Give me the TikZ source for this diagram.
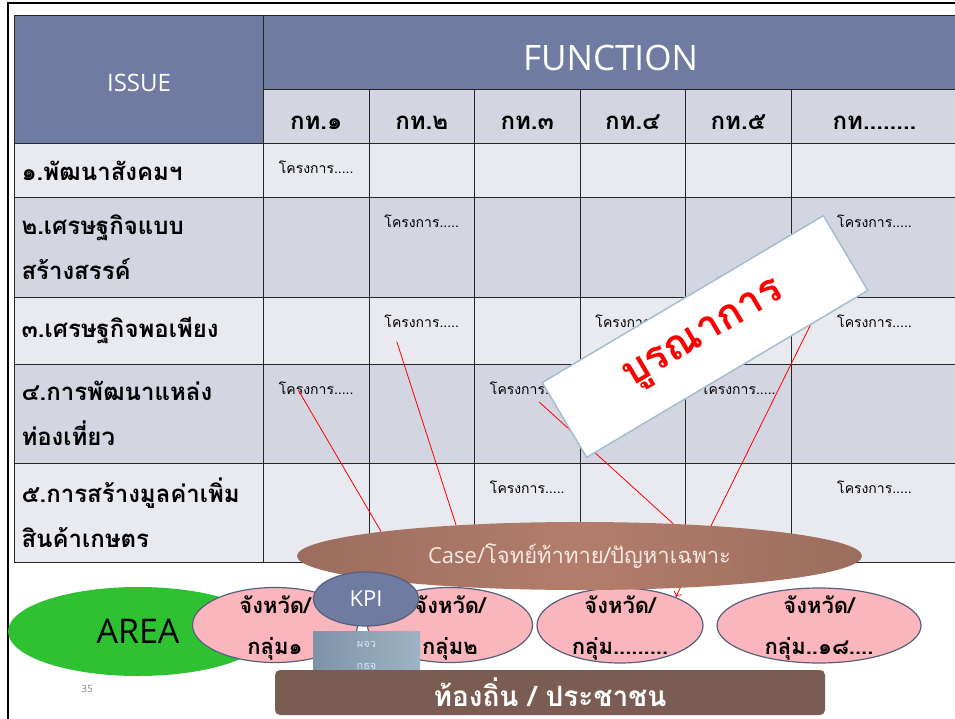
\documentclass[tikz,border=0pt]{standalone}
\usepackage{fontspec}
\setmainfont{Open Sans}
\newfontfamily\thai[Script=Thai]{Loma}
\usetikzlibrary{positioning,shapes.geometric,arrows.meta}
\pgfdeclarelayer{front}
\pgfsetlayers{main,front}
\newcommand{\cw}{105.5pt}

\definecolor{headblue}{HTML}{6F7BA1}
\definecolor{rowdark}{HTML}{D3D6E0}
\definecolor{rowlight}{HTML}{E9EAEF}
\definecolor{groupfill}{HTML}{FBB5BD}
\definecolor{rimblue}{HTML}{55607F}
\definecolor{areagreen}{HTML}{2EC232}
\definecolor{boxline}{HTML}{A6BDD1}
\definecolor{caseA}{HTML}{9B6D5E}
\definecolor{caseB}{HTML}{B37D6B}
\definecolor{casetext}{HTML}{F6E8E2}
\definecolor{pjA}{HTML}{7D94A8}
\definecolor{pjB}{HTML}{9DB4C6}
\definecolor{pjtext}{HTML}{DCE4EC}
\definecolor{localbrown}{HTML}{7A5C52}

\begin{document}
\begin{tikzpicture}[x=1pt, y=-1pt,
    cell/.style={draw=black!85, rectangle, anchor=north west, line width=1pt, inner sep=0pt, minimum width=\cw},
    head/.style={cell, fill=headblue, text=white},
    sub/.style={cell, fill=rowdark, minimum height=54pt, text height=27pt, text depth=0pt, font=\thai\bfseries\fontsize{24}{26}\selectfont},
    issue/.style={cell, minimum width=249pt, text width=235pt, align=left, inner xsep=7pt, font=\thai\bfseries\fontsize{24}{45}\selectfont},
    lightrow/.style={fill=rowlight},
    darkrow/.style={fill=rowdark},
    proj/.style={inner sep=1pt, font=\thai\fontsize{14}{16}\selectfont},
    province/.style={ellipse, draw=rimblue, line width=1.2pt, fill=groupfill, minimum width=165pt, minimum height=75pt, inner sep=-3pt, align=center, text height=58pt, text depth=0pt, font=\thai\bfseries\fontsize{22}{41}\selectfont},
    link/.style={draw=red, line width=0.8pt}]
    \useasboundingbox (0,0) rectangle (955,719);
    \draw[line width=2pt] (7.5,719) -- (7.5,3) -- (957,3);

    % Header
    \node[head, minimum width=249pt, minimum height=128pt, text height=25pt, text depth=0pt, font=\fontsize{24}{26}\selectfont] (issue) at (14,15) {ISSUE};
    \node[head, minimum width=694pt, minimum height=74pt, text height=37pt, text depth=0pt, font=\fontsize{35}{38}\selectfont] (function) at (263,15) {FUNCTION};

    % Sub header
    \node[sub] (k1) at (263,89) {กท.๑};
    \node[sub] (k2) at (368.5,89) {กท.๒};
    \node[sub] (k3) at (474,89) {กท.๓};
    \node[sub] (k4) at (579.5,89) {กท.๔};
    \node[sub] (k5) at (685,89) {กท.๕};
    \node[sub, minimum width=167pt] (k6) at (790.5,89) {กท........};

    % Row 1
    \node[issue, lightrow, minimum height=54pt] (i1) at (14,143) {๑.พัฒนาสังคมฯ};
    \node[cell, lightrow, minimum height=54pt] (c11) at (263,143) {};
    \node[cell, lightrow, minimum height=54pt] (c12) at (368.5,143) {};
    \node[cell, lightrow, minimum height=54pt] (c13) at (474,143) {};
    \node[cell, lightrow, minimum height=54pt] (c14) at (579.5,143) {};
    \node[cell, lightrow, minimum height=54pt] (c15) at (685,143) {};
    \node[cell, lightrow, minimum height=54pt, minimum width=167pt] (c16) at (790.5,143) {};

    % Row 2
    \node[issue, darkrow, minimum height=100pt] (i2) at (14,197) {๒.เศรษฐกิจแบบ\\สร้างสรรค์};
    \node[cell, darkrow, minimum height=100pt] (c21) at (263,197) {};
    \node[cell, darkrow, minimum height=100pt] (c22) at (368.5,197) {};
    \node[cell, darkrow, minimum height=100pt] (c23) at (474,197) {};
    \node[cell, darkrow, minimum height=100pt] (c24) at (579.5,197) {};
    \node[cell, darkrow, minimum height=100pt] (c25) at (685,197) {};
    \node[cell, darkrow, minimum height=100pt, minimum width=167pt] (c26) at (790.5,197) {};

    % Row 3
    \node[issue, lightrow, minimum height=66.5pt] (i3) at (14,297) {๓.เศรษฐกิจพอเพียง};
    \node[cell, lightrow, minimum height=66.5pt] (c31) at (263,297) {};
    \node[cell, lightrow, minimum height=66.5pt] (c32) at (368.5,297) {};
    \node[cell, lightrow, minimum height=66.5pt] (c33) at (474,297) {};
    \node[cell, lightrow, minimum height=66.5pt] (c34) at (579.5,297) {};
    \node[cell, lightrow, minimum height=66.5pt] (c35) at (685,297) {};
    \node[cell, lightrow, minimum height=66.5pt, minimum width=167pt] (c36) at (790.5,297) {};

    % Row 4
    \node[issue, darkrow, minimum height=99.5pt] (i4) at (14,363.5) {๔.การพัฒนาแหล่ง\\ท่องเที่ยว};
    \node[cell, darkrow, minimum height=99.5pt] (c41) at (263,363.5) {};
    \node[cell, darkrow, minimum height=99.5pt] (c42) at (368.5,363.5) {};
    \node[cell, darkrow, minimum height=99.5pt] (c43) at (474,363.5) {};
    \node[cell, darkrow, minimum height=99.5pt] (c44) at (579.5,363.5) {};
    \node[cell, darkrow, minimum height=99.5pt] (c45) at (685,363.5) {};
    \node[cell, darkrow, minimum height=99.5pt, minimum width=167pt] (c46) at (790.5,363.5) {};

    % Row 5
    \node[issue, lightrow, minimum height=99pt] (i5) at (14,463) {๕.การสร้างมูลค่าเพิ่ม\\สินค้าเกษตร};
    \node[cell, lightrow, minimum height=99pt] (c51) at (263,463) {};
    \node[cell, lightrow, minimum height=99pt] (c52) at (368.5,463) {};
    \node[cell, lightrow, minimum height=99pt] (c53) at (474,463) {};
    \node[cell, lightrow, minimum height=99pt] (c54) at (579.5,463) {};
    \node[cell, lightrow, minimum height=99pt] (c55) at (685,463) {};
    \node[cell, lightrow, minimum height=99pt, minimum width=167pt] (c56) at (790.5,463) {};

    % Projects
    \node[proj, below=17pt of c11.north] (p11) {โครงการ.....};
    \node[proj, below=17pt of c22.north] (p22) {โครงการ.....};
    \node[proj, below=17pt of c26.north] (p26) {โครงการ.....};
    \node[proj, below=17pt of c32.north] (p32) {โครงการ.....};
    \node[proj, below=17pt of c34.north] (p34) {โครงการ.....};
    \node[proj, below=17pt of c36.north] (p36) {โครงการ.....};
    \node[proj, below=17pt of c41.north] (p41) {โครงการ.....};
    \node[proj, below=17pt of c43.north] (p43) {โครงการ.....};
    \node[proj, below=17pt of c45.north] (p45) {โครงการ.....};
    \node[proj, below=17pt of c53.north] (p53) {โครงการ.....};
    \node[proj, below=17pt of c56.north] (p56) {โครงการ.....};

    % Area and provinces
    \node[ellipse, fill=areagreen, minimum width=260pt, minimum height=89pt, font=\fontsize{34}{36}\selectfont] (area) at (138,631.5) {AREA};
    \node[province] (g1) at (275,625) {จังหวัด/\\กลุ่ม๑};
    \node[province] (g2) at (450,625) {จังหวัด/\\กลุ่ม๒};
    \node[province, minimum width=166pt] (g3) at (620,625.5) {จังหวัด/\\กลุ่ม.........};
    \node[province, minimum width=204pt] (g4) at (819,625.5) {จังหวัด/\\กลุ่ม..๑๘....};
    \node[text=gray, font=\fontsize{10}{12}\selectfont] (page) at (87,689) {35};

    \begin{pgfonlayer}{front}
    \node[rotate=30.7, draw=boxline, line width=1.5pt, fill=white, minimum width=327pt, minimum height=87pt, text=red, font=\thai\bfseries\fontsize{41}{44}\selectfont] (integ) at (705,336.5) {บูรณาการ};
    \node[ellipse, left color=caseA, right color=caseA, middle color=caseB, minimum width=565pt, minimum height=68pt, text=casetext, font=\fontsize{22}{24}\selectfont] (case) at (579.5,556) {Case/{\thai โจทย์ท้าทาย/ปัญหาเฉพาะ}};
    \node[ellipse, draw=rimblue, line width=1.2pt, fill=headblue, minimum width=105pt, minimum height=54pt, text=white, font=\fontsize{22}{24}\selectfont] (kpi) at (366,599) {KPI};
    \node[rectangle, left color=pjA, right color=pjB, minimum width=107pt, minimum height=39pt, inner sep=0pt, align=center, text height=37pt, text depth=0pt, text=pjtext, font=\thai\fontsize{11}{22}\selectfont] (pj) at (366.5,650.5) {ผจว\\กธจ};
    \node[rectangle, rounded corners=5pt, fill=localbrown, minimum width=550pt, minimum height=45pt, text=white, font=\thai\bfseries\fontsize{28}{30}\selectfont] (local) at (550,692.5) {ท้องถิ่น / ประชาชน};
    \end{pgfonlayer}

    % Links
    \draw[link] ([xshift=-18pt,yshift=-2pt]p41.center) -- (case.173);
    \draw[link] ([xshift=-25pt,yshift=-20pt]p32.center) -- (case.166);
    \draw[link] ([xshift=12pt,yshift=-14pt]p43.center) -- (case.19);
    \draw[link, -{To[length=5pt,width=9pt]}] (integ.east) -- (g3.27);
\end{tikzpicture}
\end{document}
